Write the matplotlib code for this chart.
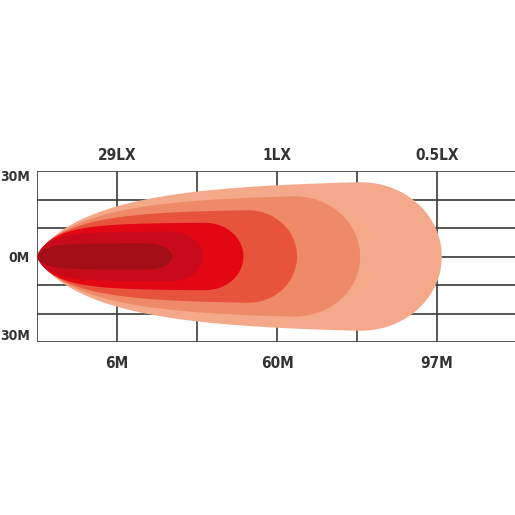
import numpy as np
import matplotlib
matplotlib.use("Agg")
import matplotlib.pyplot as plt

# ---- data ----
top_labels = ["29LX", "1LX", "0.5LX"]
top_label_cols = [1, 3, 5]
bottom_labels = ["6M", "60M", "97M"]
bottom_label_cols = [1, 3, 5]
side_labels = ["30M", "0M", "30M"]
side_label_rows = [3, 0, -3]

# beam zones, outer to inner (grid units: columns in x, rows in y)
zone_reach = [5.06, 4.04, 3.25, 2.58, 2.07, 1.69]
zone_halfwidth = [2.72, 2.20, 1.66, 1.19, 0.88, 0.46]
zone_rise = [0.95, 0.75, 0.50, 0.28, 0.19, 0.125]
zone_cap = [1.05, 0.85, 0.62, 0.48, 0.40, 0.32]
zone_colors = ["#F4A98A", "#EE8A68", "#E8533B", "#E30613", "#C90A1B", "#A20E18"]

n_cols = 5.975
n_rows = 3

W, H = 515, 515
fig = plt.figure(figsize=(W / 100, H / 100), dpi=100)
ax = fig.add_axes([37 / W, 1 - 342 / H, 1 - 37 / W, (342 - 171) / H])
ax.set_xlim(0, n_cols)
ax.set_ylim(-n_rows, n_rows)
ax.axis("off")

lc = "#3a3a3a"
for c in range(0, 6):
    ax.plot([c, c], [-n_rows, n_rows], color=lc, lw=1.2, zorder=1, solid_capstyle="butt")
for r in range(-n_rows, n_rows + 1):
    ax.plot([0, n_cols], [r, r], color=lc, lw=1.2, zorder=1, solid_capstyle="butt")

col_px, row_px = 80.0, 28.5
for L, Wd, s, c, col in zip(zone_reach, zone_halfwidth, zone_rise, zone_cap, zone_colors):
    x = np.linspace(0, L, 800)
    g = 1 - np.exp(-(x / s) ** 0.8)
    t = np.clip((x - (L - c)) / c, 0, 1)
    cap = (1 - t ** 2.0) ** (1 / 2.0)
    h = Wd * g * cap
    xs = np.concatenate([x, x[::-1]])
    ys = np.concatenate([h, -h[::-1]])
    ax.fill(xs, ys, color=col, lw=0, zorder=2)

fam = "DejaVu Sans"
tc = "#333333"
fs = 11
kw = dict(family=fam, fontstretch="condensed", fontweight="bold",
          color=tc, clip_on=False, va="center")
for lab, c in zip(top_labels, top_label_cols):
    ax.text(c, n_rows + 16 / row_px, lab, ha="center", fontsize=fs, **kw)
for lab, c in zip(bottom_labels, bottom_label_cols):
    ax.text(c, -n_rows - 21 / row_px, lab, ha="center", fontsize=fs, **kw)
side_off = {3: -6, 0: -1, -3: 6}
for lab, r in zip(side_labels, side_label_rows):
    ax.text(-7 / col_px, r + side_off[r] / row_px, lab, ha="right", fontsize=10, **kw)

fig.savefig("out.png", dpi=100, facecolor="white")
